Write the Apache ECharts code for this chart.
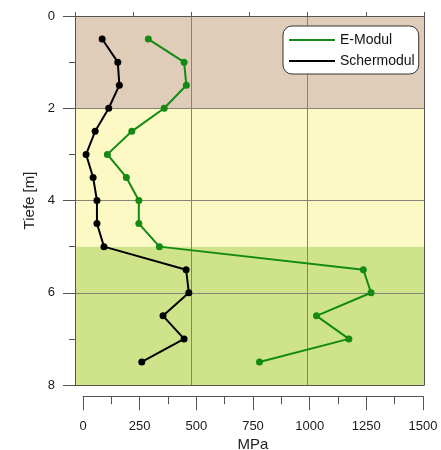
<!DOCTYPE html>
<html>
<head>
<meta charset="utf-8">
<script src="https://cdn.jsdelivr.net/npm/echarts@6/dist/echarts.min.js"></script>
<style>
  html, body { margin: 0; padding: 0; background: #fff; }
  #chart { width: 441px; height: 450px; }
</style>
</head>
<body>
<div id="chart"></div>
<script>
// Tiefe [m] der Messpunkte
const depths = [0.5, 1, 1.5, 2, 2.5, 3, 3.5, 4, 4.5, 5, 5.5, 6, 6.5, 7, 7.5];
// MPa
const eModul = [287, 445, 455, 357, 214, 106, 190, 245, 245, 336, 1237, 1271, 1030, 1173, 778];
const schermodul = [83, 152, 159, 112, 52, 12, 43, 60, 60, 91, 454, 466, 352, 445, 258];
// Schichten
const layerTop = [0, 2, 5];
const layerBottom = [2, 5, 8];
const layerColors = ['#dfcdb9', '#fdf9c5', '#cfe48a'];

const font = '"Liberation Sans Narrow", "Liberation Sans", Arial, sans-serif';
const axisGrey = '#555';
const gridGrey = '#858278';

const chart = echarts.init(document.getElementById('chart'));

const pts = vals => vals.map((v, i) => [v, depths[i]]);

const option = {
  animation: false,
  textStyle: { fontFamily: font },
  grid: [
    { left: 75, top: 16, width: 349, height: 369 },
    { left: 83, top: 396, width: 340, height: 1 }
  ],
  xAxis: [
    // data axis (hidden), mapped so that the bottom scale lines up
    { gridIndex: 0, type: 'value', min: -37, max: 1505, show: false },
    // top border with ticks
    {
      gridIndex: 0, type: 'value', position: 'top', min: 0, max: 6, interval: 1, z: 2,
      axisLine: { show: true, onZero: false, lineStyle: { color: axisGrey } },
      axisTick: { show: true, length: 4, lineStyle: { color: axisGrey } },
      axisLabel: { show: false }, splitLine: { show: false }
    },
    // vertical gridlines + bottom border
    {
      gridIndex: 0, type: 'value', position: 'bottom', min: 0, max: 3, interval: 1, z: 2,
      axisLine: { show: true, onZero: false, lineStyle: { color: axisGrey } },
      axisTick: { show: false }, axisLabel: { show: false },
      splitLine: { show: true, lineStyle: { color: gridGrey, width: 1 } }
    },
    // separate MPa scale below the plot
    {
      gridIndex: 1, type: 'value', position: 'bottom', min: 0, max: 1500, interval: 250,
      name: 'MPa', nameLocation: 'middle', nameGap: 41,
      nameTextStyle: { fontSize: 15, color: '#222', fontFamily: font },
      axisLine: { show: true, onZero: false, lineStyle: { color: axisGrey } },
      axisTick: { show: true, length: 14, lineStyle: { color: axisGrey } },
      minorTick: { show: true, splitNumber: 2, length: 8, lineStyle: { color: axisGrey } },
      axisLabel: { margin: 24, fontSize: 13, color: '#1a1a1a', fontFamily: font, formatter: v => String(v) },
      splitLine: { show: false }
    }
  ],
  yAxis: [
    {
      gridIndex: 0, type: 'value', inverse: true, min: 0, max: 8, interval: 2, z: 2,
      name: 'Tiefe [m]', nameLocation: 'middle', nameGap: 37, nameRotate: 90,
      nameTextStyle: { fontSize: 15, color: '#222', fontFamily: font },
      axisLine: { show: true, onZero: false, lineStyle: { color: axisGrey } },
      axisTick: { show: true, length: 12, lineStyle: { color: axisGrey } },
      minorTick: { show: true, splitNumber: 2, length: 6, lineStyle: { color: axisGrey } },
      axisLabel: { margin: 20, fontSize: 13, color: '#1a1a1a', fontFamily: font },
      splitLine: { show: true, lineStyle: { color: gridGrey, width: 1 } }
    },
    // right border
    {
      gridIndex: 0, type: 'value', position: 'right', min: 0, max: 8, z: 2,
      axisLine: { show: true, onZero: false, lineStyle: { color: axisGrey } },
      axisTick: { show: false }, axisLabel: { show: false }, splitLine: { show: false }
    },
    { gridIndex: 1, type: 'value', show: false, min: 0, max: 1 }
  ],
  legend: {
    left: 283, top: 26, orient: 'vertical',
    backgroundColor: '#fff', borderColor: '#333', borderWidth: 1, borderRadius: 9,
    padding: [7, 4, 6, 6], itemGap: 7, itemWidth: 46, itemHeight: 2,
    textStyle: { fontSize: 14, color: '#111', fontFamily: font },
    data: [{ name: 'E-Modul', icon: 'rect' }, { name: 'Schermodul', icon: 'rect' }]
  },
  series: [
    {
      name: 'Schermodul', type: 'line', xAxisIndex: 0, yAxisIndex: 0, z: 3,
      data: pts(schermodul),
      color: '#000',
      lineStyle: { width: 2, color: '#000' },
      symbol: 'circle', symbolSize: 7,
      markArea: {
        silent: true, z: 1,
        data: layerTop.map((t, i) => [
          { yAxis: t, itemStyle: { color: layerColors[i] } },
          { yAxis: layerBottom[i] }
        ])
      }
    },
    {
      name: 'E-Modul', type: 'line', xAxisIndex: 0, yAxisIndex: 0, z: 3,
      data: pts(eModul),
      color: '#138a13',
      lineStyle: { width: 2, color: '#138a13' },
      symbol: 'circle', symbolSize: 7
    }
  ]
};

chart.setOption(option);
</script>
</body>
</html>
